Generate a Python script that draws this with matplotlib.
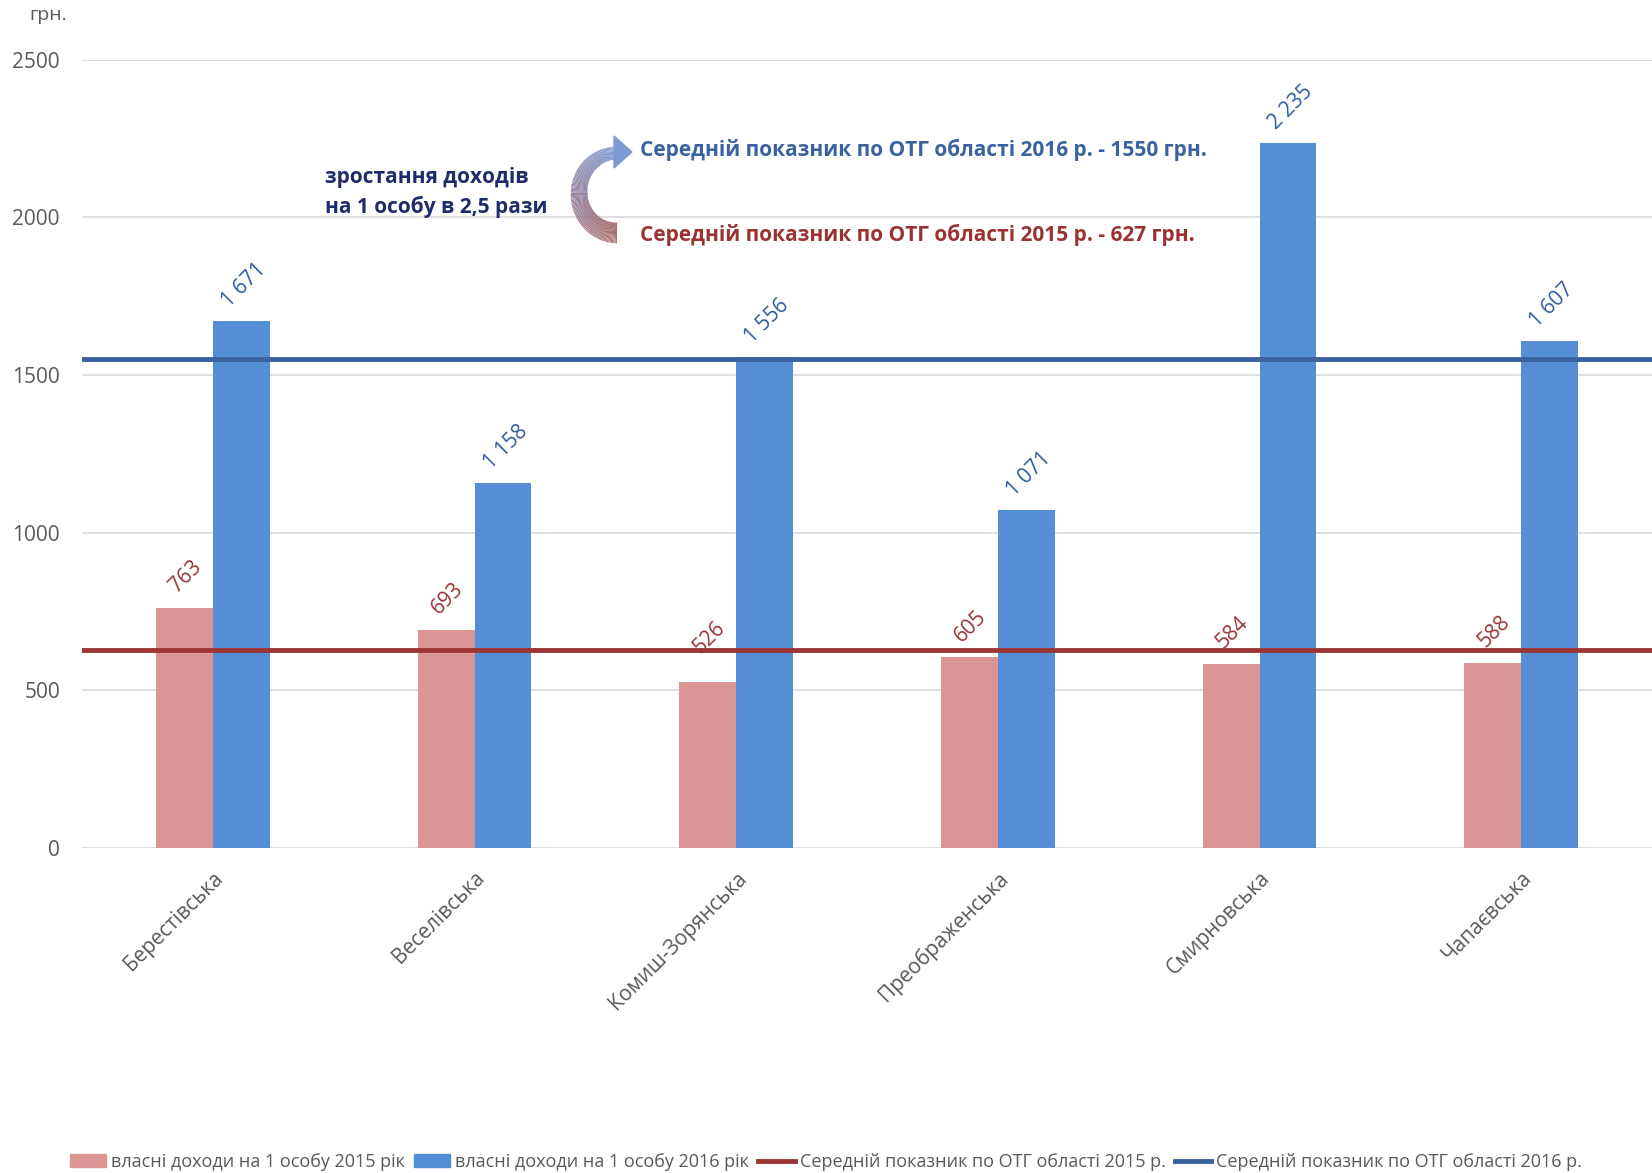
import numpy as np
import matplotlib
matplotlib.use("Agg")
import matplotlib.pyplot as plt
from matplotlib.collections import LineCollection
from matplotlib.patches import Polygon
from matplotlib.lines import Line2D
from matplotlib.patches import Patch

plt.rcParams['font.family'] = ['Open Sans', 'DejaVu Sans']

# data
communities = ['Берестівська', 'Веселівська', 'Комиш-Зорянська',
               'Преображенська', 'Смирновська', 'Чапаєвська']
income_2015 = [763, 693, 526, 605, 584, 588]
income_2016 = [1671, 1158, 1556, 1071, 2235, 1607]
avg_2015 = 627
avg_2016 = 1550
yticks = [0, 500, 1000, 1500, 2000, 2500]

c15 = '#D99694'
c16 = '#558ED5'
c15_txt = '#953735'
c16_txt = '#2F5C9A'
line15 = '#9E3535'
line16 = '#3A62A0'
grey = '#595959'

fig = plt.figure(figsize=(16.52, 11.73), dpi=100)
ax = fig.add_axes([0.0497, 0.277, 0.9503, 0.672])

x = np.arange(len(communities))
w = 0.217
ax.bar(x - w / 2, income_2015, w, color=c15, zorder=2)
ax.bar(x + w / 2, income_2016, w, color=c16, zorder=2)

ax.axhline(avg_2015, color=line15, lw=3.5, zorder=3)
ax.axhline(avg_2016, color=line16, lw=3.5, zorder=3)

for xi, v in zip(x, income_2015):
    # the label sitting on the red line is nudged up, as in the source chart
    dy = 18 if abs(v - avg_2015) < 120 and v < avg_2015 - 60 else 8
    ax.annotate(f'{v}', (xi - w / 2, v), xytext=(1, dy), textcoords='offset points',
                ha='center', va='bottom', rotation=45, fontsize=15, color=c15_txt)
for xi, v in zip(x, income_2016):
    lab = f'{v:,}'.replace(',', ' ')
    ax.annotate(lab, (xi + w / 2, v), xytext=(2, 7), textcoords='offset points',
                ha='center', va='bottom', rotation=45, fontsize=15, color=c16_txt)

ax.set_xlim(-0.5, len(communities) - 0.5)
ax.set_ylim(0, 2500)
ax.set_yticks(yticks)
ax.set_yticklabels([str(t) for t in yticks], fontsize=15, color=grey)
ax.set_xticks(x)
ax.set_xticklabels(communities, rotation=45, ha='right', rotation_mode='anchor',
                   fontsize=15, color=grey)
ax.tick_params(length=0, axis='x', pad=14)
ax.tick_params(length=0, axis='y', pad=16)
ax.grid(axis='y', color='#D9D9D9', lw=1.2, zorder=0)
for s in ax.spines.values():
    s.set_visible(False)

fig.text(0.018, 0.987, 'грн.', fontsize=14, color=grey, va='center')

# overlay in pixel coordinates for the notes and arrow
ov = fig.add_axes([0, 0, 1, 1])
ov.set_xlim(0, 1652)
ov.set_ylim(1173, 0)
ov.axis('off')
ov.patch.set_alpha(0)

ov.text(325, 177, 'зростання доходів', fontsize=15, fontweight='bold', color='#1F2C6B', va='center')
ov.text(325, 207, 'на 1 особу в 2,5 рази', fontsize=15, fontweight='bold', color='#1F2C6B', va='center')
ov.text(640, 150, 'Середній показник по ОТГ області 2016 р. - 1550 грн.', fontsize=15,
        fontweight='bold', color=line16, va='center')
ov.text(640, 235, 'Середній показник по ОТГ області 2015 р. - 627 грн.', fontsize=15,
        fontweight='bold', color='#9B3232', va='center')

t = np.linspace(-np.pi / 2, np.pi / 2, 120)
cx, cy, rx, ry = 617, 193, 38, 40
px = cx - rx * np.cos(t)
py = cy - ry * np.sin(t)
pts = np.column_stack([px, py]).reshape(-1, 1, 2)
segs = np.concatenate([pts[:-1], pts[1:]], axis=1)
c_a = np.array(matplotlib.colors.to_rgb('#A86A6A'))
c_b = np.array(matplotlib.colors.to_rgb('#7E9AD2'))
f = np.linspace(0, 1, len(segs))[:, None]
cols = c_a * (1 - f) + c_b * f
widths = np.linspace(15, 9, len(segs))
ov.add_collection(LineCollection(segs, colors=cols, linewidths=widths, capstyle='butt'))
ov.add_patch(Polygon([[614, 136], [632, 152], [614, 168]], closed=True, color='#7E9AD2'))

handles = [Patch(color=c15), Patch(color=c16),
           Line2D([], [], color=line15, lw=3.5), Line2D([], [], color=line16, lw=3.5)]
labels = ['власні доходи на 1 особу 2015 рік', 'власні доходи на 1 особу 2016 рік',
          'Середній показник по ОТГ області 2015 р.', 'Середній показник по ОТГ області 2016 р.']
fig.legend(handles, labels, loc='center', bbox_to_anchor=(0.5, 0.0095), ncol=4,
           frameon=False, fontsize=13, handlelength=2.0, handletextpad=0.3,
           columnspacing=0.5, labelcolor=grey)

fig.savefig('out.png', dpi=100)
